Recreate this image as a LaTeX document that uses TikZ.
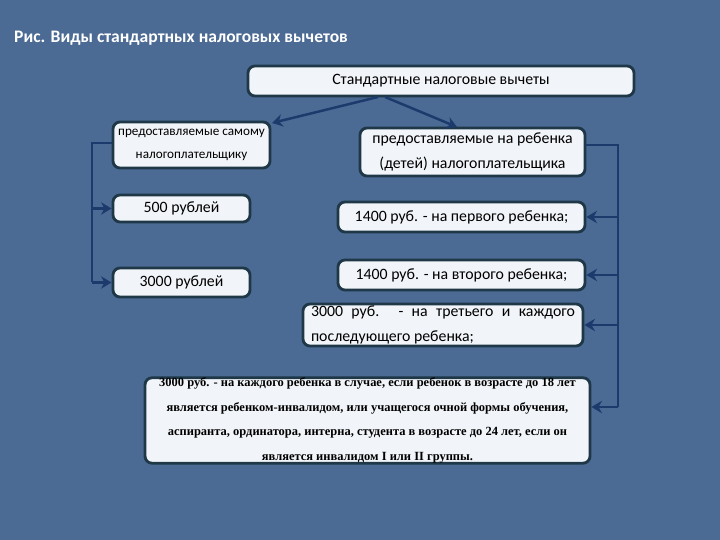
\documentclass[tikz,border=0pt]{standalone}
\usepackage{fontspec}
\setmainfont{Carlito}
\newfontfamily\serifb{Liberation Serif}
\usetikzlibrary{arrows.meta}
\definecolor{bg}{HTML}{4B6A94}
\definecolor{ln}{HTML}{1C3A6C}
\definecolor{bx}{HTML}{F1F4F8}
\definecolor{bd}{HTML}{1E3848}
\begin{document}
\begin{tikzpicture}[x=0.02cm,y=-0.02cm,
 box/.style={draw=bd,line width=1.6pt,fill=bx,rounded corners=4pt,inner sep=0pt,align=center,font=\fontsize{9}{14}\selectfont},
 conn/.style={draw=ln,line width=1.4pt},
 arr/.style={conn,-{Stealth[length=6pt,width=7pt]}}]
\fill[bg] (0,0) rectangle (720,540);
\node[anchor=west,text=white,font=\bfseries\fontsize{10}{12}\selectfont] (title) at (8,38) {Рис. Виды стандартных налоговых вычетов};
\node[box,minimum width=386*0.02cm,minimum height=30*0.02cm] (top) at (441,81) {Стандартные налоговые вычеты};
\node[box,minimum width=157*0.02cm,minimum height=46*0.02cm,font=\fontsize{7.5}{13}\selectfont] (l1) at (191.5,145) {предоставляемые самому\\налогоплательщику};
\node[box,minimum width=225*0.02cm,minimum height=48*0.02cm] (r1) at (472.5,152) {предоставляемые на ребенка\\(детей) налогоплательщика};
\node[box,minimum width=137*0.02cm,minimum height=27*0.02cm] (l2) at (181.5,208.5) {500 рублей};
\node[box,minimum width=137*0.02cm,minimum height=29*0.02cm] (l3) at (181.5,282.5) {3000 рублей};
\node[box,minimum width=247*0.02cm,minimum height=30*0.02cm] (r2) at (461.5,217) {1400 руб. - на первого ребенка;};
\node[box,minimum width=247*0.02cm,minimum height=30*0.02cm] (r3) at (461.5,275) {1400 руб. - на второго ребенка;};
\node[box,minimum width=280*0.02cm,minimum height=42*0.02cm,text width=264*0.02cm,align=justify] (r4) at (443,325) {3000 руб. - на третьего и каждого последующего ребенка;};
\node[box,minimum width=445*0.02cm,minimum height=85*0.02cm,font=\serifb\bfseries\fontsize{7.1}{14}\selectfont] (r5) at (367.5,420.5) {3000 руб. - на каждого ребенка в случае, если ребенок в возрасте до 18 лет\\является ребенком-инвалидом, или учащегося очной формы обучения,\\аспиранта, ординатора, интерна, студента в возрасте до 24 лет, если он\\является инвалидом I или II группы.};
\coordinate (ta) at (378,97);
\coordinate (tb) at (385,97);
\draw[arr] (ta) -- (272,123);
\draw[arr] (tb) -- (457,127);
\coordinate (lb) at (92,143);
\draw[conn] (l1.west|-lb) -- (lb) -- (92,282.5);
\draw[arr] (92,208.5) -- (l2.west);
\draw[arr] (92,282.5) -- (l3.west);
\coordinate (rb) at (618,145);
\draw[conn] (r1.east|-rb) -- (rb) -- (618,407);
\draw[arr] (618,217) -- (r2.east);
\draw[arr] (618,275) -- (r3.east);
\draw[arr] (618,325) -- (r4.east);
\draw[arr] (618,407) -- (r5.east|-0,407);
\end{tikzpicture}
\end{document}
